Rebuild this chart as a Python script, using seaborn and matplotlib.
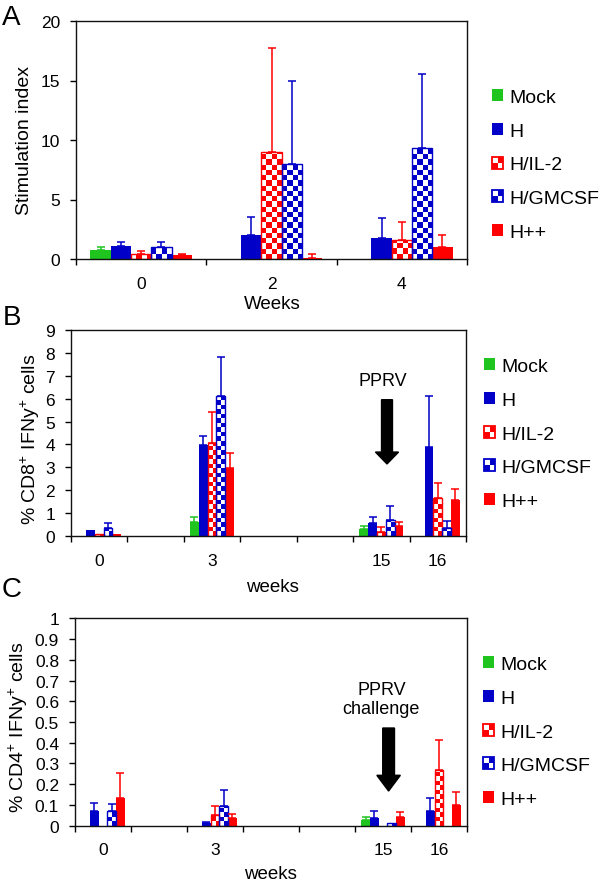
import numpy as np
import pandas as pd
import matplotlib
matplotlib.use('Agg')
import matplotlib.pyplot as plt
import seaborn as sns
from matplotlib.colors import ListedColormap
from matplotlib.patches import Rectangle
from matplotlib.container import BarContainer
from matplotlib.legend_handler import HandlerBase
from matplotlib.ticker import FuncFormatter

# ---------------- data ----------------
groups = ['Mock', 'H', 'H/IL-2', 'H/GMCSF', 'H++']
group_colors = ['#1fc41f', '#0000c8', '#ff0000', '#0000c8', '#ff0000']
patterned = ['H/IL-2', 'H/GMCSF']

# Panel A: stimulation index
a_slots = ['0', '2', '4']
a_weeks = ['0', '2', '4']
a_mock = [0.76, 0.0, 0.0]
a_mock_sd = [0.28, 0.0, 0.0]
a_h = [1.12, 2.0, 1.75]
a_h_sd = [0.28, 1.55, 1.70]
a_il2 = [0.39, 9.0, 1.57]
a_il2_sd = [0.26, 8.7, 1.55]
a_gm = [0.98, 8.0, 9.33]
a_gm_sd = [0.47, 7.0, 6.2]
a_hpp = [0.36, 0.05, 1.0]
a_hpp_sd = [0.10, 0.35, 1.0]

# Panel B: % CD8+ IFNy+ cells
b_slots = ['0', ' ', '3', '  ', '   ', '15', '16']
b_weeks = ['0', '3', '15', '16']
b_mock = [0.0, 0.61, 0.32, 0.0]
b_mock_sd = [0.0, 0.23, 0.14, 0.0]
b_h = [0.29, 3.98, 0.60, 3.88]
b_h_sd = [0.0, 0.37, 0.24, 2.25]
b_il2 = [0.12, 4.08, 0.17, 1.67]
b_il2_sd = [0.0, 1.32, 0.22, 0.65]
b_gm = [0.37, 6.11, 0.71, 0.35]
b_gm_sd = [0.22, 1.69, 0.60, 0.33]
b_hpp = [0.10, 2.99, 0.45, 1.60]
b_hpp_sd = [0.0, 0.62, 0.16, 0.46]

# Panel C: % CD4+ IFNy+ cells
c_slots = ['0', ' ', '3', '  ', '   ', '15', '16']
c_weeks = ['0', '3', '15', '16']
c_mock = [0.0, 0.0, 0.029, 0.0]
c_mock_sd = [0.0, 0.0, 0.014, 0.0]
c_h = [0.072, 0.013, 0.037, 0.069]
c_h_sd = [0.039, 0.007, 0.032, 0.064]
c_il2 = [0.0, 0.050, 0.0, 0.268]
c_il2_sd = [0.0, 0.046, 0.0, 0.145]
c_gm = [0.070, 0.095, 0.011, 0.0]
c_gm_sd = [0.033, 0.075, 0.0, 0.0]
c_hpp = [0.135, 0.037, 0.043, 0.101]
c_hpp_sd = [0.117, 0.018, 0.021, 0.060]

# ---------------- style ----------------
plt.rcParams['font.family'] = ['Liberation Sans', 'DejaVu Sans']
plt.rcParams['mathtext.fontset'] = 'custom'
plt.rcParams['mathtext.rm'] = 'Liberation Sans'
plt.rcParams['mathtext.it'] = 'Liberation Sans'
plt.rcParams['mathtext.default'] = 'regular'

TICK_FS = 12.5
LABEL_FS = 14
LEG_FS = 14

fig = plt.figure(figsize=(6, 8.87), dpi=100)
W, H = 600, 887


def px_rect(left, top, right, bottom):
    return [left / W, 1 - bottom / H, (right - left) / W, (bottom - top) / H]


def long_df(weeks, series, sds):
    rows = []
    for g, vals, errs in zip(groups, series, sds):
        for wk, v, e in zip(weeks, vals, errs):
            rows.append({'week': wk, 'group': g, 'value': v, 'sd': e})
    return pd.DataFrame(rows)


def add_checker(ax, bar, color, s):
    x0, y0 = bar.get_x(), bar.get_y()
    w, h = bar.get_width(), bar.get_height()
    if h <= 0:
        return
    t = ax.transData
    px0, py0 = t.transform((x0, y0))
    px1, py1 = t.transform((x0 + w, y0 + h))
    nx = max(1, int(np.ceil((px1 - px0) / s)))
    ny = max(1, int(np.ceil((py1 - py0) / s)))
    ex1, ey1 = t.inverted().transform((px0 + nx * s, py0 + ny * s))
    arr = np.add.outer(np.arange(ny), np.arange(nx)) % 2
    im = ax.imshow(arr, cmap=ListedColormap(['white', color]), vmin=0, vmax=1,
                   extent=(x0, ex1, y0, ey1), origin='lower', aspect='auto',
                   interpolation='nearest', zorder=1.9)
    im.set_clip_path(bar)


class CheckerHandler(HandlerBase):
    def __init__(self, color):
        super().__init__()
        self.color = color

    def create_artists(self, legend, orig_handle, xdescent, ydescent,
                       width, height, fontsize, trans):
        x0, y0 = -xdescent, -ydescent
        hw, hh = width / 2, height / 2
        arts = [Rectangle((x0, y0), width, height, facecolor='white',
                          edgecolor=self.color, lw=1.3, transform=trans),
                Rectangle((x0 + hw, y0 + hh), hw, hh, facecolor=self.color,
                          edgecolor='none', transform=trans),
                Rectangle((x0, y0), hw, hh, facecolor=self.color,
                          edgecolor='none', transform=trans)]
        return arts


def draw_panel(rect, slots, weeks, series, sds, ylim, yticks, s_px,
               ylabel, ylab_xy, xlabel, xlab_xy, leg_xy):
    ax = fig.add_axes(px_rect(*rect))
    df = long_df(weeks, series, sds)
    palette = dict(zip(groups, group_colors))
    sns.barplot(data=df, x='week', y='value', hue='group', order=slots,
                hue_order=groups, palette=palette, dodge=True, width=0.78,
                errorbar=None, saturation=1, linewidth=0, legend=False, ax=ax)
    n = len(slots)
    ax.set_xlim(-0.5, n - 0.5)
    ax.set_ylim(*ylim)

    bar_conts = [c for c in list(ax.containers) if isinstance(c, BarContainer)]
    for gi, cont in enumerate(bar_conts):
        g = groups[gi]
        col = group_colors[gi]
        for bar in cont:
            xc = bar.get_x() + bar.get_width() / 2
            slot = slots[int(round(xc))]
            wi = weeks.index(slot)
            val = series[gi][wi]
            err = sds[gi][wi]
            if g in patterned:
                if val > 0:
                    bar.set_facecolor('none')
                    bar.set_edgecolor(col)
                    bar.set_linewidth(1.0)
                    bar.set_zorder(2)
                    add_checker(ax, bar, col, s_px)
                else:
                    bar.set_visible(False)
            if err > 0:
                ax.errorbar([xc], [val], yerr=[[0], [err]], fmt='none',
                            ecolor=col, elinewidth=1.1, capsize=3.0,
                            capthick=1.1, zorder=3)
    ax.set_xlim(-0.5, n - 0.5)
    ax.set_ylim(*ylim)

    ax.set_xticks(np.arange(n))
    ax.set_xticklabels(slots)
    ax.set_xticks(np.arange(-0.5, n, 1.0), minor=True)
    ax.tick_params(axis='x', which='major', length=0, pad=12, labelsize=TICK_FS)
    ax.tick_params(axis='x', which='minor', length=4, width=1.0, direction='out')
    ax.set_yticks(yticks)
    ax.yaxis.set_major_formatter(FuncFormatter(lambda v, p: '%g' % round(v, 3)))
    ax.tick_params(axis='y', which='major', length=4.5, width=1.0, pad=7,
                   labelsize=TICK_FS, direction='out')
    for sp in ax.spines.values():
        sp.set_visible(True)
        sp.set_linewidth(1.0)
        sp.set_color('#111111')

    ax.set_ylabel(ylabel, fontsize=LABEL_FS)
    ax.set_xlabel(xlabel, fontsize=LABEL_FS - 0.5)
    ax.yaxis.label.set_verticalalignment('center')
    ax.xaxis.label.set_verticalalignment('center')
    l, t, r, b = rect
    ax.yaxis.set_label_coords((ylab_xy[0] - l) / (r - l), (b - ylab_xy[1]) / (b - t))
    ax.xaxis.set_label_coords((xlab_xy[0] - l) / (r - l), (b - xlab_xy[1]) / (b - t))

    handles, hmap = [], {}
    for g, c in zip(groups, group_colors):
        hnd = Rectangle((0, 0), 1, 1, facecolor=c, edgecolor='none')
        if g in patterned:
            hmap[hnd] = CheckerHandler(c)
        handles.append(hnd)
    fig.legend(handles, groups, handler_map=hmap, loc='center left',
               bbox_to_anchor=(leg_xy[0] / W, 1 - leg_xy[1] / H),
               bbox_transform=fig.transFigure, frameon=False, fontsize=LEG_FS,
               borderpad=0, borderaxespad=0, handlelength=0.58,
               handleheight=0.58, handletextpad=0.3, labelspacing=0.86)
    return ax


axA = draw_panel((76, 22, 467, 260), a_slots, a_weeks,
                 [a_mock, a_h, a_il2, a_gm, a_hpp],
                 [a_mock_sd, a_h_sd, a_il2_sd, a_gm_sd, a_hpp_sd],
                 (0, 20), [0, 5, 10, 15, 20], 5.2,
                 'Stimulation index', (25, 141), 'Weeks', (272, 305), (492, 166))

axB = draw_panel((71, 330.7, 466, 537.3), b_slots, b_weeks,
                 [b_mock, b_h, b_il2, b_gm, b_hpp],
                 [b_mock_sd, b_h_sd, b_il2_sd, b_gm_sd, b_hpp_sd],
                 (0, 9), list(range(10)), 4.5,
                 r'% CD8$^{+}$ IFNy$^{+}$ cells', (30, 439), 'weeks', (272, 588),
                 (484, 435))

axC = draw_panel((75, 619.3, 467, 826.7), c_slots, c_weeks,
                 [c_mock, c_h, c_il2, c_gm, c_hpp],
                 [c_mock_sd, c_h_sd, c_il2_sd, c_gm_sd, c_hpp_sd],
                 (0, 1), [round(0.1 * i, 1) for i in range(11)], 4.5,
                 r'% CD4$^{+}$ IFNy$^{+}$ cells', (18, 727), 'weeks', (270, 875),
                 (483, 733))

# annotations: challenge arrows
axB.text(5.03, 6.78, 'PPRV', ha='center', va='center', fontsize=13)
axB.arrow(5.1, 5.95, 0, 3.15 - 5.95, width=0.194, head_width=0.41,
          head_length=0.52, length_includes_head=True, color='black', zorder=4)
axC.text(4.97, 0.61, 'PPRV\nchallenge', ha='center', va='center', fontsize=13,
         linespacing=1.2)
axC.arrow(5.1, 0.471, 0, 0.167 - 0.471, width=0.21, head_width=0.42,
          head_length=0.076, length_includes_head=True, color='black', zorder=4)

# panel letters
for letter, (x, y) in zip(['A', 'B', 'C'], [(11, 18), (12, 318), (12, 590)]):
    fig.text(x / W, 1 - y / H, letter, ha='center', va='center', fontsize=20)

fig.savefig('out.png', dpi=100)
